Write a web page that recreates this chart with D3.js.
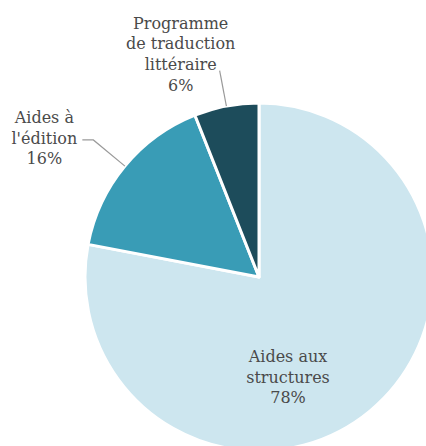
<!DOCTYPE html>
<html>
<head>
<meta charset="utf-8">
<script src="https://cdn.jsdelivr.net/npm/d3@7"></script>
<style>
	body { margin: 0; background: #fff; }
	svg { display: block; }
	text { font-family: 'DejaVu Serif', Georgia, serif; fill: #4a4a4a; }
</style>
</head>
<body>
<svg id="chart"></svg>
<script>

var w = 426;
var h = 446;

// shares of the budget, in %
var categories = ['Aides aux structures', "Aides à l'édition", 'Programme de traduction littéraire'];
var values = [78, 16, 6];
var label_lines = [
	['Aides aux', 'structures', '78%'],
	['Aides à', "l'édition", '16%'],
	['Programme', 'de traduction', 'littéraire', '6%']
];
var colors = ['#cde6ef', '#399cb6', '#1d4c5b'];

var cx = 259, cy = 277, r = 174;

var svg = d3.select('#chart')
	.attr('width', w)
	.attr('height', h);

var pie = d3.pie().sort(null).value(function(d) { return d; });
var arcs = pie(values);

var arc = d3.arc().innerRadius(0).outerRadius(r);

var g = svg.append('g')
	.attr('transform', 'translate(' + cx + ',' + cy + ')');

g.selectAll('.slice')
	.data(arcs)
	.enter()
	.append('path')
	.attr('class', 'slice')
	.attr('d', arc)
	.attr('fill', function(d, i) { return colors[i]; })
	.style('stroke', '#fff')
	.style('stroke-width', '3px')
	.style('stroke-linejoin', 'round');

function polar(a, rad) {
	return [Math.sin(a) * rad, -Math.cos(a) * rad];
}

function mid(d) { return (d.startAngle + d.endAngle) / 2; }

// leader lines
var p1 = arcs[1];
var a1 = polar(mid(p1), r);
var b1 = polar(mid(p1), 215);
g.append('polyline')
	.attr('points', [a1, b1, [b1[0] - 11, b1[1]]].map(function(p) { return p.join(','); }).join(' '))
	.attr('fill', 'none')
	.style('stroke', '#9a9a9a')
	.style('stroke-width', '1.2px');

var p2 = arcs[2];
var a2 = polar(mid(p2), r);
var b2 = polar(mid(p2), 210);
g.append('line')
	.attr('x1', a2[0]).attr('y1', a2[1])
	.attr('x2', b2[0]).attr('y2', b2[1])
	.style('stroke', '#9a9a9a')
	.style('stroke-width', '1.2px');

// labels
var label_pos = [
	[29, 85],
	[b1[0] - 49, b1[1] - 17],
	[b2[0] - 39, b2[1] - 42]
];

var labels = g.selectAll('.label')
	.data(label_lines)
	.enter()
	.append('text')
	.attr('class', 'label')
	.attr('text-anchor', 'middle')
	.style('font-size', '16px')
	.attr('transform', function(d, i) { return 'translate(' + label_pos[i][0] + ',' + label_pos[i][1] + ')'; });

labels.selectAll('tspan')
	.data(function(d) { return d; })
	.enter()
	.append('tspan')
	.attr('x', 0)
	.attr('y', function(d, i) { return i * 20.6; })
	.text(function(d) { return d; });

</script>
</body>
</html>
